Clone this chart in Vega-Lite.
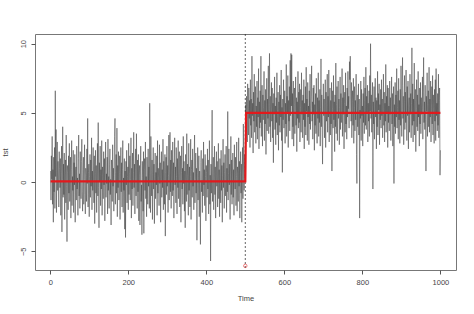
{
"$schema":"https://vega.github.io/schema/vega-lite/v6.json",
"width":421,"height":236,
"autosize":"none",
"padding":{"left":35,"top":34,"right":18,"bottom":44},
"background":"white",
"config":{"view":{"stroke":"#777","strokeWidth":1},"font":"Liberation Sans"},
"datasets":{
"fit":[{"t":1,"m":0.05},{"t":500,"m":0.05},{"t":502,"m":5.0},{"t":1000,"m":5.0}],
"cp":[{"t":500,"y":-6.05}]
},
"layer":[
{"data":{"values":[
{"t":1,"v":0.8},{"t":2,"v":-1.3},{"t":3,"v":1.9},{"t":4,"v":0.2},{"t":5,"v":3.3},{"t":6,"v":-1.6},{"t":7,"v":0.9},{"t":8,"v":-2.9},{"t":9,"v":1.8},{"t":10,"v":-0.7},{"t":11,"v":2.5},{"t":12,"v":-1.9},{"t":13,"v":6.6},{"t":14,"v":0.4},{"t":15,"v":3.8},{"t":16,"v":-2.2},{"t":17,"v":1.1},{"t":18,"v":2.9},{"t":19,"v":-0.6},{"t":20,"v":1.5},{"t":21,"v":0.3},{"t":22,"v":-1.8},{"t":23,"v":2.2},{"t":24,"v":1.0},{"t":25,"v":-0.4},
{"t":26,"v":1.7},{"t":27,"v":-2.4},{"t":28,"v":0.6},{"t":29,"v":2.6},{"t":30,"v":-3.6},{"t":31,"v":0.2},{"t":32,"v":4.0},{"t":33,"v":-1.1},{"t":34,"v":1.3},{"t":35,"v":-0.9},{"t":36,"v":2.1},{"t":37,"v":-2.7},{"t":38,"v":0.5},{"t":39,"v":1.6},{"t":40,"v":-1.5},{"t":41,"v":3.4},{"t":42,"v":-0.3},{"t":43,"v":-4.3},{"t":44,"v":1.2},{"t":45,"v":0.7},{"t":46,"v":-2.0},{"t":47,"v":1.9},{"t":48,"v":-0.8},{"t":49,"v":2.8},{"t":50,"v":-1.4},
{"t":51,"v":0.1},{"t":52,"v":1.8},{"t":53,"v":-2.6},{"t":54,"v":0.9},{"t":55,"v":3.0},{"t":56,"v":-1.7},{"t":57,"v":0.4},{"t":58,"v":-0.6},{"t":59,"v":2.3},{"t":60,"v":-2.2},{"t":61,"v":1.4},{"t":62,"v":-0.2},{"t":63,"v":2.0},{"t":64,"v":-2.9},{"t":65,"v":0.8},{"t":66,"v":1.1},{"t":67,"v":-1.3},{"t":68,"v":2.6},{"t":69,"v":-0.5},{"t":70,"v":0.3},{"t":71,"v":-2.4},{"t":72,"v":1.7},{"t":73,"v":3.4},{"t":74,"v":-1.0},{"t":75,"v":0.6},
{"t":76,"v":-1.9},{"t":77,"v":2.2},{"t":78,"v":0.0},{"t":79,"v":-1.2},{"t":80,"v":1.5},{"t":81,"v":3.1},{"t":82,"v":-0.7},{"t":83,"v":-2.1},{"t":84,"v":0.9},{"t":85,"v":1.8},{"t":86,"v":-1.6},{"t":87,"v":0.2},{"t":88,"v":2.7},{"t":89,"v":-0.9},{"t":90,"v":-2.3},{"t":91,"v":1.0},{"t":92,"v":0.5},{"t":93,"v":-1.4},{"t":94,"v":2.4},{"t":95,"v":-0.1},{"t":96,"v":4.6},{"t":97,"v":-1.8},{"t":98,"v":0.7},{"t":99,"v":1.3},{"t":100,"v":-2.5},
{"t":101,"v":0.4},{"t":102,"v":2.0},{"t":103,"v":-1.1},{"t":104,"v":1.6},{"t":105,"v":-0.3},{"t":106,"v":3.2},{"t":107,"v":-2.0},{"t":108,"v":0.8},{"t":109,"v":-0.6},{"t":110,"v":2.5},{"t":111,"v":0.1},{"t":112,"v":-1.5},{"t":113,"v":1.9},{"t":114,"v":-3.0},{"t":115,"v":0.6},{"t":116,"v":2.3},{"t":117,"v":-0.8},{"t":118,"v":1.2},{"t":119,"v":-2.2},{"t":120,"v":0.3},{"t":121,"v":2.8},{"t":122,"v":-1.0},{"t":123,"v":4.3},{"t":124,"v":-0.4},{"t":125,"v":-3.3},
{"t":126,"v":1.4},{"t":127,"v":0.0},{"t":128,"v":2.6},{"t":129,"v":-1.7},{"t":130,"v":0.9},{"t":131,"v":-0.5},{"t":132,"v":3.0},{"t":133,"v":-2.4},{"t":134,"v":1.1},{"t":135,"v":0.5},{"t":136,"v":-1.2},{"t":137,"v":2.2},{"t":138,"v":-0.2},{"t":139,"v":1.7},{"t":140,"v":-2.8},{"t":141,"v":0.3},{"t":142,"v":2.9},{"t":143,"v":-1.1},{"t":144,"v":0.6},{"t":145,"v":-0.1},{"t":146,"v":1.8},{"t":147,"v":-2.3},{"t":148,"v":3.1},{"t":149,"v":-0.6},{"t":150,"v":0.4},
{"t":151,"v":-1.9},{"t":152,"v":1.3},{"t":153,"v":2.4},{"t":154,"v":-0.9},{"t":155,"v":0.2},{"t":156,"v":-3.1},{"t":157,"v":1.6},{"t":158,"v":0.8},{"t":159,"v":-1.4},{"t":160,"v":2.7},{"t":161,"v":-0.3},{"t":162,"v":1.0},{"t":163,"v":-2.1},{"t":164,"v":0.5},{"t":165,"v":3.3},{"t":166,"v":4.6},{"t":167,"v":-1.6},{"t":168,"v":0.7},{"t":169,"v":2.0},{"t":170,"v":-0.8},{"t":171,"v":3.9},{"t":172,"v":-2.5},{"t":173,"v":1.2},{"t":174,"v":-0.4},{"t":175,"v":2.2},
{"t":176,"v":-1.3},{"t":177,"v":0.6},{"t":178,"v":1.9},{"t":179,"v":-2.7},{"t":180,"v":0.1},{"t":181,"v":2.5},{"t":182,"v":-0.7},{"t":183,"v":1.4},{"t":184,"v":-1.8},{"t":185,"v":0.9},{"t":186,"v":3.0},{"t":187,"v":-2.2},{"t":188,"v":0.3},{"t":189,"v":-0.6},{"t":190,"v":1.7},{"t":191,"v":-3.4},{"t":192,"v":0.8},{"t":193,"v":-4.0},{"t":194,"v":1.5},{"t":195,"v":-0.2},{"t":196,"v":2.3},{"t":197,"v":-1.5},{"t":198,"v":0.4},{"t":199,"v":1.1},{"t":200,"v":-2.0},
{"t":201,"v":2.8},{"t":202,"v":-0.9},{"t":203,"v":0.6},{"t":204,"v":1.9},{"t":205,"v":-1.3},{"t":206,"v":0.2},{"t":207,"v":3.2},{"t":208,"v":-2.6},{"t":209,"v":1.0},{"t":210,"v":-0.5},{"t":211,"v":2.1},{"t":212,"v":-1.7},{"t":213,"v":0.7},{"t":214,"v":3.6},{"t":215,"v":-0.4},{"t":216,"v":1.3},{"t":217,"v":-2.3},{"t":218,"v":0.9},{"t":219,"v":2.4},{"t":220,"v":-1.0},{"t":221,"v":3.5},{"t":222,"v":0.1},{"t":223,"v":-1.9},{"t":224,"v":1.6},{"t":225,"v":-0.7},
{"t":226,"v":2.0},{"t":227,"v":-2.8},{"t":228,"v":0.5},{"t":229,"v":1.2},{"t":230,"v":-3.1},{"t":231,"v":0.8},{"t":232,"v":2.6},{"t":233,"v":-1.4},{"t":234,"v":-0.2},{"t":235,"v":-3.8},{"t":236,"v":1.5},{"t":237,"v":0.3},{"t":238,"v":-2.1},{"t":239,"v":2.2},{"t":240,"v":-3.7},{"t":241,"v":0.9},{"t":242,"v":1.7},{"t":243,"v":-0.6},{"t":244,"v":2.9},{"t":245,"v":-1.2},{"t":246,"v":0.4},{"t":247,"v":-2.5},{"t":248,"v":1.8},{"t":249,"v":0.0},{"t":250,"v":-1.6},
{"t":251,"v":2.4},{"t":252,"v":-0.3},{"t":253,"v":1.1},{"t":254,"v":-1.9},{"t":255,"v":5.7},{"t":256,"v":0.6},{"t":257,"v":-2.2},{"t":258,"v":3.3},{"t":259,"v":0.2},{"t":260,"v":-1.0},{"t":261,"v":1.6},{"t":262,"v":-2.7},{"t":263,"v":0.8},{"t":264,"v":2.5},{"t":265,"v":-0.5},{"t":266,"v":1.3},{"t":267,"v":-3.0},{"t":268,"v":0.4},{"t":269,"v":2.1},{"t":270,"v":-1.2},{"t":271,"v":0.7},{"t":272,"v":-0.2},{"t":273,"v":1.9},{"t":274,"v":-2.4},{"t":275,"v":3.0},
{"t":276,"v":-0.8},{"t":277,"v":1.0},{"t":278,"v":0.3},{"t":279,"v":-1.7},{"t":280,"v":2.7},{"t":281,"v":-0.1},{"t":282,"v":1.4},{"t":283,"v":-2.9},{"t":284,"v":0.6},{"t":285,"v":2.2},{"t":286,"v":-1.1},{"t":287,"v":0.9},{"t":288,"v":-0.4},{"t":289,"v":3.1},{"t":290,"v":-2.0},{"t":291,"v":1.5},{"t":292,"v":0.2},{"t":293,"v":-1.6},{"t":294,"v":2.0},{"t":295,"v":-3.9},{"t":296,"v":0.7},{"t":297,"v":1.8},{"t":298,"v":-0.9},{"t":299,"v":2.6},{"t":300,"v":-0.3},
{"t":301,"v":1.2},{"t":302,"v":-2.2},{"t":303,"v":0.5},{"t":304,"v":3.4},{"t":305,"v":-1.3},{"t":306,"v":0.8},{"t":307,"v":3.6},{"t":308,"v":-0.7},{"t":309,"v":1.6},{"t":310,"v":-1.9},{"t":311,"v":2.3},{"t":312,"v":0.1},{"t":313,"v":-1.0},{"t":314,"v":2.9},{"t":315,"v":-0.6},{"t":316,"v":1.4},{"t":317,"v":-2.6},{"t":318,"v":0.9},{"t":319,"v":3.2},{"t":320,"v":-0.2},{"t":321,"v":1.1},{"t":322,"v":-1.5},{"t":323,"v":2.5},{"t":324,"v":0.4},{"t":325,"v":-2.3},
{"t":326,"v":1.7},{"t":327,"v":-0.4},{"t":328,"v":3.0},{"t":329,"v":-1.2},{"t":330,"v":0.6},{"t":331,"v":2.2},{"t":332,"v":-1.8},{"t":333,"v":0.3},{"t":334,"v":1.9},{"t":335,"v":-2.9},{"t":336,"v":0.7},{"t":337,"v":2.6},{"t":338,"v":-0.5},{"t":339,"v":1.0},{"t":340,"v":-1.6},{"t":341,"v":3.3},{"t":342,"v":-0.1},{"t":343,"v":1.5},{"t":344,"v":-2.1},{"t":345,"v":0.8},{"t":346,"v":-3.3},{"t":347,"v":2.0},{"t":348,"v":0.2},{"t":349,"v":-1.4},{"t":350,"v":3.5},
{"t":351,"v":-0.9},{"t":352,"v":1.3},{"t":353,"v":0.5},{"t":354,"v":-2.4},{"t":355,"v":2.8},{"t":356,"v":-0.6},{"t":357,"v":1.1},{"t":358,"v":-1.8},{"t":359,"v":0.4},{"t":360,"v":3.1},{"t":361,"v":-2.7},{"t":362,"v":0.9},{"t":363,"v":1.6},{"t":364,"v":-1.1},{"t":365,"v":2.4},{"t":366,"v":-0.3},{"t":367,"v":0.7},{"t":368,"v":-2.0},{"t":369,"v":1.8},{"t":370,"v":3.4},{"t":371,"v":-1.5},{"t":372,"v":0.2},{"t":373,"v":2.1},{"t":374,"v":-0.8},{"t":375,"v":1.0},
{"t":376,"v":-4.2},{"t":377,"v":0.6},{"t":378,"v":2.5},{"t":379,"v":-1.3},{"t":380,"v":0.3},{"t":381,"v":1.9},{"t":382,"v":-2.5},{"t":383,"v":0.8},{"t":384,"v":-0.4},{"t":385,"v":-4.5},{"t":386,"v":1.4},{"t":387,"v":2.3},{"t":388,"v":-0.7},{"t":389,"v":0.1},{"t":390,"v":-2.2},{"t":391,"v":1.7},{"t":392,"v":-1.0},{"t":393,"v":2.9},{"t":394,"v":-0.2},{"t":395,"v":0.9},{"t":396,"v":-1.7},{"t":397,"v":2.0},{"t":398,"v":0.4},{"t":399,"v":-2.8},{"t":400,"v":1.2},
{"t":401,"v":0.7},{"t":402,"v":-1.1},{"t":403,"v":2.4},{"t":404,"v":-0.5},{"t":405,"v":1.6},{"t":406,"v":-2.3},{"t":407,"v":0.2},{"t":408,"v":3.0},{"t":409,"v":-1.6},{"t":410,"v":0.5},{"t":411,"v":-5.7},{"t":412,"v":1.3},{"t":413,"v":-0.8},{"t":414,"v":2.1},{"t":415,"v":5.2},{"t":416,"v":-1.4},{"t":417,"v":0.6},{"t":418,"v":1.8},{"t":419,"v":-2.0},{"t":420,"v":0.3},{"t":421,"v":2.6},{"t":422,"v":-0.9},{"t":423,"v":1.1},{"t":424,"v":-2.6},{"t":425,"v":0.8},
{"t":426,"v":2.2},{"t":427,"v":-0.3},{"t":428,"v":1.5},{"t":429,"v":-1.8},{"t":430,"v":0.4},{"t":431,"v":2.8},{"t":432,"v":-1.2},{"t":433,"v":0.9},{"t":434,"v":-2.5},{"t":435,"v":1.7},{"t":436,"v":0.0},{"t":437,"v":-1.5},{"t":438,"v":2.3},{"t":439,"v":-0.6},{"t":440,"v":1.2},{"t":441,"v":-2.9},{"t":442,"v":0.5},{"t":443,"v":3.1},{"t":444,"v":-0.4},{"t":445,"v":1.4},{"t":446,"v":-1.9},{"t":447,"v":0.7},{"t":448,"v":2.0},{"t":449,"v":-1.0},{"t":450,"v":0.2},
{"t":451,"v":2.6},{"t":452,"v":-2.2},{"t":453,"v":1.0},{"t":454,"v":-0.7},{"t":455,"v":5.1},{"t":456,"v":-1.3},{"t":457,"v":0.6},{"t":458,"v":2.4},{"t":459,"v":-0.2},{"t":460,"v":1.3},{"t":461,"v":-2.7},{"t":462,"v":0.8},{"t":463,"v":3.3},{"t":464,"v":-0.9},{"t":465,"v":1.6},{"t":466,"v":-1.6},{"t":467,"v":0.3},{"t":468,"v":2.1},{"t":469,"v":-1.1},{"t":470,"v":0.9},{"t":471,"v":-2.4},{"t":472,"v":2.7},{"t":473,"v":0.1},{"t":474,"v":-0.5},{"t":475,"v":1.8},
{"t":476,"v":-1.7},{"t":477,"v":0.4},{"t":478,"v":2.9},{"t":479,"v":-2.1},{"t":480,"v":1.1},{"t":481,"v":0.6},{"t":482,"v":-1.4},{"t":483,"v":3.2},{"t":484,"v":-0.3},{"t":485,"v":1.5},{"t":486,"v":-2.6},{"t":487,"v":0.7},{"t":488,"v":2.2},{"t":489,"v":-0.8},{"t":490,"v":1.3},{"t":491,"v":-2.9},{"t":492,"v":0.5},{"t":493,"v":2.5},{"t":494,"v":-1.2},{"t":495,"v":4.2},{"t":496,"v":0.9},{"t":497,"v":-0.6},{"t":498,"v":2.0},{"t":499,"v":0.3},{"t":500,"v":1.6},
{"t":501,"v":5.6},{"t":502,"v":3.8},{"t":503,"v":6.2},{"t":504,"v":4.9},{"t":505,"v":2.9},{"t":506,"v":7.1},{"t":507,"v":5.3},{"t":508,"v":3.4},{"t":509,"v":6.8},{"t":510,"v":4.6},{"t":511,"v":5.9},{"t":512,"v":2.5},{"t":513,"v":7.4},{"t":514,"v":4.1},{"t":515,"v":6.0},{"t":516,"v":3.2},{"t":517,"v":9.1},{"t":518,"v":4.8},{"t":519,"v":5.7},{"t":520,"v":2.1},{"t":521,"v":6.5},{"t":522,"v":4.4},{"t":523,"v":7.8},{"t":524,"v":3.6},{"t":525,"v":5.2},
{"t":526,"v":6.9},{"t":527,"v":2.8},{"t":528,"v":5.5},{"t":529,"v":4.0},{"t":530,"v":7.3},{"t":531,"v":3.1},{"t":532,"v":6.1},{"t":533,"v":4.7},{"t":534,"v":8.2},{"t":535,"v":2.4},{"t":536,"v":5.8},{"t":537,"v":3.9},{"t":538,"v":6.6},{"t":539,"v":4.3},{"t":540,"v":9.1},{"t":541,"v":3.3},{"t":542,"v":5.0},{"t":543,"v":7.0},{"t":544,"v":2.6},{"t":545,"v":6.3},{"t":546,"v":4.5},{"t":547,"v":5.4},{"t":548,"v":8.0},{"t":549,"v":3.0},{"t":550,"v":5.9},
{"t":551,"v":4.2},{"t":552,"v":6.7},{"t":553,"v":2.0},{"t":554,"v":5.1},{"t":555,"v":7.5},{"t":556,"v":3.7},{"t":557,"v":6.0},{"t":558,"v":4.6},{"t":559,"v":8.4},{"t":560,"v":3.5},{"t":561,"v":5.6},{"t":562,"v":9.3},{"t":563,"v":4.0},{"t":564,"v":6.2},{"t":565,"v":2.9},{"t":566,"v":5.3},{"t":567,"v":7.2},{"t":568,"v":4.4},{"t":569,"v":6.8},{"t":570,"v":3.2},{"t":571,"v":5.7},{"t":572,"v":1.4},{"t":573,"v":6.4},{"t":574,"v":4.9},{"t":575,"v":7.6},
{"t":576,"v":3.8},{"t":577,"v":5.5},{"t":578,"v":2.7},{"t":579,"v":6.1},{"t":580,"v":4.3},{"t":581,"v":7.9},{"t":582,"v":3.4},{"t":583,"v":5.2},{"t":584,"v":6.5},{"t":585,"v":2.3},{"t":586,"v":5.8},{"t":587,"v":4.1},{"t":588,"v":7.0},{"t":589,"v":3.6},{"t":590,"v":6.3},{"t":591,"v":4.7},{"t":592,"v":8.1},{"t":593,"v":3.0},{"t":594,"v":5.4},{"t":595,"v":0.7},{"t":596,"v":6.0},{"t":597,"v":4.5},{"t":598,"v":7.4},{"t":599,"v":3.9},{"t":600,"v":5.1},
{"t":601,"v":6.6},{"t":602,"v":2.8},{"t":603,"v":5.7},{"t":604,"v":4.2},{"t":605,"v":8.5},{"t":606,"v":3.3},{"t":607,"v":6.2},{"t":608,"v":5.0},{"t":609,"v":7.7},{"t":610,"v":2.5},{"t":611,"v":5.9},{"t":612,"v":4.4},{"t":613,"v":6.9},{"t":614,"v":3.7},{"t":615,"v":8.8},{"t":616,"v":4.8},{"t":617,"v":9.3},{"t":618,"v":5.5},{"t":619,"v":9.2},{"t":620,"v":3.1},{"t":621,"v":6.4},{"t":622,"v":4.0},{"t":623,"v":7.3},{"t":624,"v":2.6},{"t":625,"v":5.6},
{"t":626,"v":6.8},{"t":627,"v":3.5},{"t":628,"v":5.2},{"t":629,"v":7.6},{"t":630,"v":4.1},{"t":631,"v":6.1},{"t":632,"v":2.2},{"t":633,"v":5.8},{"t":634,"v":4.6},{"t":635,"v":8.0},{"t":636,"v":3.9},{"t":637,"v":6.5},{"t":638,"v":4.3},{"t":639,"v":7.1},{"t":640,"v":2.9},{"t":641,"v":5.4},{"t":642,"v":6.7},{"t":643,"v":3.6},{"t":644,"v":7.9},{"t":645,"v":4.9},{"t":646,"v":5.9},{"t":647,"v":3.2},{"t":648,"v":6.3},{"t":649,"v":4.5},{"t":650,"v":7.4},
{"t":651,"v":2.4},{"t":652,"v":5.7},{"t":653,"v":4.0},{"t":654,"v":6.9},{"t":655,"v":3.4},{"t":656,"v":8.3},{"t":657,"v":5.1},{"t":658,"v":6.0},{"t":659,"v":3.0},{"t":660,"v":7.2},{"t":661,"v":4.7},{"t":662,"v":5.5},{"t":663,"v":2.7},{"t":664,"v":6.6},{"t":665,"v":4.2},{"t":666,"v":7.8},{"t":667,"v":3.8},{"t":668,"v":5.3},{"t":669,"v":6.2},{"t":670,"v":8.4},{"t":671,"v":4.4},{"t":672,"v":5.8},{"t":673,"v":3.1},{"t":674,"v":6.8},{"t":675,"v":4.9},
{"t":676,"v":7.0},{"t":677,"v":2.3},{"t":678,"v":5.6},{"t":679,"v":4.1},{"t":680,"v":6.4},{"t":681,"v":3.5},{"t":682,"v":7.5},{"t":683,"v":5.0},{"t":684,"v":2.8},{"t":685,"v":6.1},{"t":686,"v":4.6},{"t":687,"v":7.9},{"t":688,"v":3.3},{"t":689,"v":5.9},{"t":690,"v":4.3},{"t":691,"v":6.7},{"t":692,"v":2.6},{"t":693,"v":5.4},{"t":694,"v":8.9},{"t":695,"v":4.0},{"t":696,"v":6.3},{"t":697,"v":3.7},{"t":698,"v":1.3},{"t":699,"v":5.2},{"t":700,"v":7.1},
{"t":701,"v":4.8},{"t":702,"v":6.0},{"t":703,"v":3.2},{"t":704,"v":5.7},{"t":705,"v":7.4},{"t":706,"v":2.5},{"t":707,"v":6.5},{"t":708,"v":4.4},{"t":709,"v":5.1},{"t":710,"v":7.8},{"t":711,"v":3.6},{"t":712,"v":6.2},{"t":713,"v":4.7},{"t":714,"v":8.1},{"t":715,"v":2.9},{"t":716,"v":5.5},{"t":717,"v":6.8},{"t":718,"v":3.4},{"t":719,"v":5.9},{"t":720,"v":4.2},{"t":721,"v":7.2},{"t":722,"v":0.8},{"t":723,"v":5.3},{"t":724,"v":6.6},{"t":725,"v":3.9},
{"t":726,"v":7.7},{"t":727,"v":4.5},{"t":728,"v":5.8},{"t":729,"v":2.2},{"t":730,"v":6.3},{"t":731,"v":4.0},{"t":732,"v":8.6},{"t":733,"v":3.5},{"t":734,"v":5.6},{"t":735,"v":6.9},{"t":736,"v":3.0},{"t":737,"v":5.2},{"t":738,"v":7.3},{"t":739,"v":4.6},{"t":740,"v":6.0},{"t":741,"v":2.7},{"t":742,"v":5.4},{"t":743,"v":7.6},{"t":744,"v":3.8},{"t":745,"v":6.4},{"t":746,"v":4.3},{"t":747,"v":5.0},{"t":748,"v":8.2},{"t":749,"v":3.3},{"t":750,"v":6.1},
{"t":751,"v":4.9},{"t":752,"v":7.0},{"t":753,"v":2.4},{"t":754,"v":5.7},{"t":755,"v":6.5},{"t":756,"v":3.6},{"t":757,"v":7.9},{"t":758,"v":4.2},{"t":759,"v":5.5},{"t":760,"v":3.1},{"t":761,"v":6.8},{"t":762,"v":4.7},{"t":763,"v":8.0},{"t":764,"v":5.3},{"t":765,"v":6.2},{"t":766,"v":3.9},{"t":767,"v":8.7},{"t":768,"v":7.4},{"t":769,"v":9.1},{"t":770,"v":6.0},{"t":771,"v":4.4},{"t":772,"v":7.2},{"t":773,"v":3.2},{"t":774,"v":5.8},{"t":775,"v":6.6},
{"t":776,"v":4.1},{"t":777,"v":7.5},{"t":778,"v":2.8},{"t":779,"v":5.4},{"t":780,"v":6.9},{"t":781,"v":3.7},{"t":782,"v":5.9},{"t":783,"v":4.5},{"t":784,"v":7.8},{"t":785,"v":2.0},{"t":786,"v":-0.1},{"t":787,"v":6.3},{"t":788,"v":4.0},{"t":789,"v":5.6},{"t":790,"v":7.1},{"t":791,"v":3.4},{"t":792,"v":6.0},{"t":793,"v":-2.6},{"t":794,"v":5.2},{"t":795,"v":4.6},{"t":796,"v":7.3},{"t":797,"v":3.0},{"t":798,"v":6.7},{"t":799,"v":4.8},{"t":800,"v":5.5},
{"t":801,"v":2.6},{"t":802,"v":6.4},{"t":803,"v":4.3},{"t":804,"v":7.6},{"t":805,"v":3.5},{"t":806,"v":5.9},{"t":807,"v":6.8},{"t":808,"v":4.1},{"t":809,"v":8.3},{"t":810,"v":3.8},{"t":811,"v":6.2},{"t":812,"v":5.0},{"t":813,"v":7.0},{"t":814,"v":2.9},{"t":815,"v":5.7},{"t":816,"v":4.4},{"t":817,"v":6.6},{"t":818,"v":3.3},{"t":819,"v":7.7},{"t":820,"v":5.1},{"t":821,"v":10.0},{"t":822,"v":4.6},{"t":823,"v":6.3},{"t":824,"v":3.6},{"t":825,"v":5.4},
{"t":826,"v":7.2},{"t":827,"v":-0.5},{"t":828,"v":5.8},{"t":829,"v":4.2},{"t":830,"v":6.9},{"t":831,"v":3.1},{"t":832,"v":5.5},{"t":833,"v":7.5},{"t":834,"v":4.7},{"t":835,"v":6.1},{"t":836,"v":2.4},{"t":837,"v":5.9},{"t":838,"v":4.0},{"t":839,"v":8.0},{"t":840,"v":3.4},{"t":841,"v":6.4},{"t":842,"v":5.2},{"t":843,"v":7.1},{"t":844,"v":2.7},{"t":845,"v":5.6},{"t":846,"v":4.5},{"t":847,"v":6.7},{"t":848,"v":3.9},{"t":849,"v":7.4},{"t":850,"v":4.8},
{"t":851,"v":6.0},{"t":852,"v":3.2},{"t":853,"v":5.3},{"t":854,"v":7.8},{"t":855,"v":4.1},{"t":856,"v":6.5},{"t":857,"v":2.9},{"t":858,"v":5.7},{"t":859,"v":4.4},{"t":860,"v":8.5},{"t":861,"v":3.6},{"t":862,"v":6.2},{"t":863,"v":5.0},{"t":864,"v":7.0},{"t":865,"v":2.5},{"t":866,"v":6.8},{"t":867,"v":4.3},{"t":868,"v":5.5},{"t":869,"v":3.7},{"t":870,"v":7.3},{"t":871,"v":4.9},{"t":872,"v":6.1},{"t":873,"v":3.0},{"t":874,"v":5.8},{"t":875,"v":7.6},
{"t":876,"v":4.2},{"t":877,"v":6.4},{"t":878,"v":2.6},{"t":879,"v":5.1},{"t":880,"v":6.9},{"t":881,"v":-0.1},{"t":882,"v":5.6},{"t":883,"v":4.0},{"t":884,"v":7.2},{"t":885,"v":3.5},{"t":886,"v":6.3},{"t":887,"v":4.7},{"t":888,"v":8.2},{"t":889,"v":3.9},{"t":890,"v":5.4},{"t":891,"v":6.6},{"t":892,"v":3.1},{"t":893,"v":7.5},{"t":894,"v":4.5},{"t":895,"v":5.9},{"t":896,"v":2.8},{"t":897,"v":6.7},{"t":898,"v":4.1},{"t":899,"v":8.4},{"t":900,"v":5.2},
{"t":901,"v":3.3},{"t":902,"v":7.0},{"t":903,"v":9.0},{"t":904,"v":4.6},{"t":905,"v":6.2},{"t":906,"v":2.7},{"t":907,"v":5.8},{"t":908,"v":7.7},{"t":909,"v":3.8},{"t":910,"v":6.5},{"t":911,"v":4.3},{"t":912,"v":8.1},{"t":913,"v":5.0},{"t":914,"v":3.0},{"t":915,"v":6.9},{"t":916,"v":4.8},{"t":917,"v":7.3},{"t":918,"v":2.4},{"t":919,"v":5.5},{"t":920,"v":6.1},{"t":921,"v":3.6},{"t":922,"v":7.8},{"t":923,"v":4.9},{"t":924,"v":6.4},{"t":925,"v":3.2},
{"t":926,"v":5.7},{"t":927,"v":9.7},{"t":928,"v":4.1},{"t":929,"v":7.1},{"t":930,"v":2.9},{"t":931,"v":6.0},{"t":932,"v":4.4},{"t":933,"v":8.6},{"t":934,"v":3.4},{"t":935,"v":5.9},{"t":936,"v":6.7},{"t":937,"v":2.2},{"t":938,"v":5.3},{"t":939,"v":7.4},{"t":940,"v":4.0},{"t":941,"v":6.3},{"t":942,"v":3.7},{"t":943,"v":8.0},{"t":944,"v":4.7},{"t":945,"v":5.6},{"t":946,"v":2.6},{"t":947,"v":6.8},{"t":948,"v":4.2},{"t":949,"v":7.2},{"t":950,"v":3.5},
{"t":951,"v":6.1},{"t":952,"v":4.9},{"t":953,"v":5.4},{"t":954,"v":7.6},{"t":955,"v":3.1},{"t":956,"v":6.5},{"t":957,"v":9.0},{"t":958,"v":4.3},{"t":959,"v":5.8},{"t":960,"v":3.8},{"t":961,"v":7.0},{"t":962,"v":4.5},{"t":963,"v":0.8},{"t":964,"v":6.2},{"t":965,"v":5.1},{"t":966,"v":7.9},{"t":967,"v":3.3},{"t":968,"v":5.6},{"t":969,"v":6.6},{"t":970,"v":4.0},{"t":971,"v":8.3},{"t":972,"v":3.6},{"t":973,"v":6.0},{"t":974,"v":4.7},{"t":975,"v":7.3},
{"t":976,"v":2.9},{"t":977,"v":5.5},{"t":978,"v":6.9},{"t":979,"v":4.2},{"t":980,"v":7.7},{"t":981,"v":3.4},{"t":982,"v":6.3},{"t":983,"v":5.0},{"t":984,"v":2.8},{"t":985,"v":6.7},{"t":986,"v":4.4},{"t":987,"v":7.4},{"t":988,"v":3.0},{"t":989,"v":8.2},{"t":990,"v":4.8},{"t":991,"v":5.7},{"t":992,"v":3.7},{"t":993,"v":6.4},{"t":994,"v":4.1},{"t":995,"v":7.8},{"t":996,"v":3.2},{"t":997,"v":5.9},{"t":998,"v":6.8},{"t":999,"v":0.5},{"t":1000,"v":2.3}
]},
"mark":{"type":"line","color":"#444","strokeWidth":0.55,"interpolate":"linear"},
"encoding":{
"x":{"field":"t","type":"quantitative","scale":{"domain":[-39,1040],"nice":false,"zero":false},
"axis":{"values":[0,200,400,600,800,1000],"format":"d","title":"Time","grid":false,"domain":false,"tickColor":"#555","tickSize":4,"labelFontSize":7.5,"labelColor":"#444","labelPadding":4,"titleFontSize":7.5,"titleFontWeight":"normal","titleColor":"#444","titlePadding":9,"labelFont":"Liberation Sans","titleFont":"Liberation Sans"}},
"y":{"field":"v","type":"quantitative","scale":{"domain":[-6.35,10.7],"nice":false,"zero":false},
"axis":{"values":[-5,0,5,10],"format":"d","title":"tst","grid":false,"domain":false,"tickColor":"#555","tickSize":4,"labelFontSize":7.5,"labelColor":"#444","labelAngle":-90,"labelAlign":"center","labelBaseline":"bottom","labelPadding":4,"titleFontSize":7.5,"titleFontWeight":"normal","titleColor":"#444","titlePadding":10,"labelFont":"Liberation Sans","titleFont":"Liberation Sans"}}
}},
{"data":{"name":"cp"},"mark":{"type":"rule","color":"#222","strokeWidth":0.7,"strokeDash":[2,2]},
"encoding":{"x":{"field":"t","type":"quantitative"}}},
{"data":{"name":"fit"},"mark":{"type":"line","color":"#e3191c","strokeWidth":2.2},
"encoding":{"x":{"field":"t","type":"quantitative"},"y":{"field":"m","type":"quantitative"}}},
{"data":{"name":"cp"},"mark":{"type":"point","shape":"circle","color":"#e3191c","size":12,"strokeWidth":0.8,"filled":false},
"encoding":{"x":{"field":"t","type":"quantitative"},"y":{"field":"y","type":"quantitative"}}}
]
}
